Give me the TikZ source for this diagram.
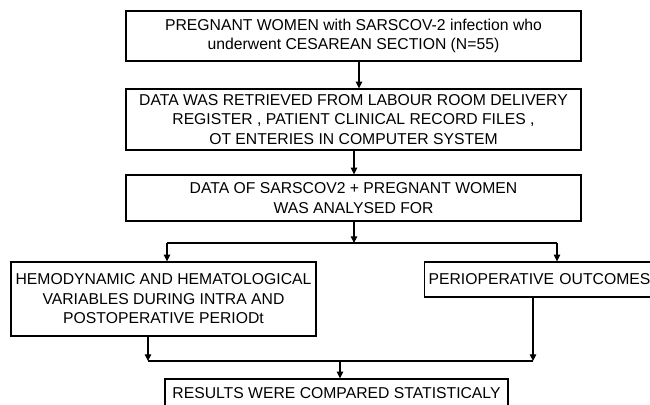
\documentclass[tikz,border=0pt]{standalone}
\usepackage{fontspec}
\setmainfont{Liberation Sans}
\usetikzlibrary{arrows.meta}
\tikzset{
  box/.style={draw,line width=0.9pt,inner sep=0pt,align=center,
    font=\fontsize{11.8}{14.6}\selectfont},
  arr/.style={line width=0.8pt,-{Triangle[length=5pt,width=4.8pt]}},
  ln/.style={line width=0.8pt}
}
\begin{document}
\begin{tikzpicture}[x=0.75pt,y=-0.75pt]
\useasboundingbox (0,0) rectangle (650,404);
\clip (0,0) rectangle (650,404);
\fill[white] (0,0) rectangle (650,404);
\node[box,minimum width=455*0.75pt,minimum height=50*0.75pt] (women) at (353.5,36)
  {PREGNANT WOMEN with SARSCOV-2 infection who\\underwent CESAREAN SECTION (N=55)};
\node[box,minimum width=455*0.75pt,minimum height=61*0.75pt] (retrieved) at (353.5,119.5)
  {DATA WAS RETRIEVED FROM LABOUR ROOM DELIVERY\\REGISTER , PATIENT CLINICAL RECORD FILES ,\\OT ENTERIES IN COMPUTER SYSTEM};
\node[box,minimum width=455*0.75pt,minimum height=46*0.75pt] (analysed) at (353.5,198)
  {DATA OF SARSCOV2 + PREGNANT WOMEN\\WAS ANALYSED FOR};
\node[box,minimum width=305*0.75pt,minimum height=74*0.75pt] (hemo) at (163.5,299)
  {HEMODYNAMIC AND HEMATOLOGICAL\\VARIABLES DURING INTRA AND\\POSTOPERATIVE PERIODt};
\node[box,anchor=west,align=left,text width=300*0.75pt,inner xsep=3pt,
  minimum height=35*0.75pt] (periop) at (424,279.5) {PERIOPERATIVE OUTCOMES};
\node[box,minimum width=343*0.75pt,minimum height=28*0.75pt] (results) at (336.5,393)
  {RESULTS WERE COMPARED STATISTICALY};
% top of the chart
\coordinate (split) at (354,243);
\coordinate (splitL) at (167,243);
\coordinate (splitR) at (557,243);
\draw[arr] (women.south -| 359,0) -- (retrieved.north -| 359,0);
\draw[arr] (retrieved.south -| split) -- (analysed.north -| split);
\draw[arr] (analysed.south -| split) -- (split);
\draw[ln] (splitL) -- (splitR);
\draw[arr] (splitL) -- (splitL |- hemo.north);
\draw[arr] (splitR) -- (splitR |- periop.north);
% bottom of the chart
\coordinate (mergeL) at (148,361);
\coordinate (mergeR) at (533,361);
\coordinate (merge) at (340,361);
\draw[arr] (mergeL |- hemo.south) -- (mergeL);
\draw[arr] (mergeR |- periop.south) -- (mergeR);
\draw[ln] (mergeL) -- (mergeR);
\draw[arr] (merge) -- (merge |- results.north);
\end{tikzpicture}
\end{document}
